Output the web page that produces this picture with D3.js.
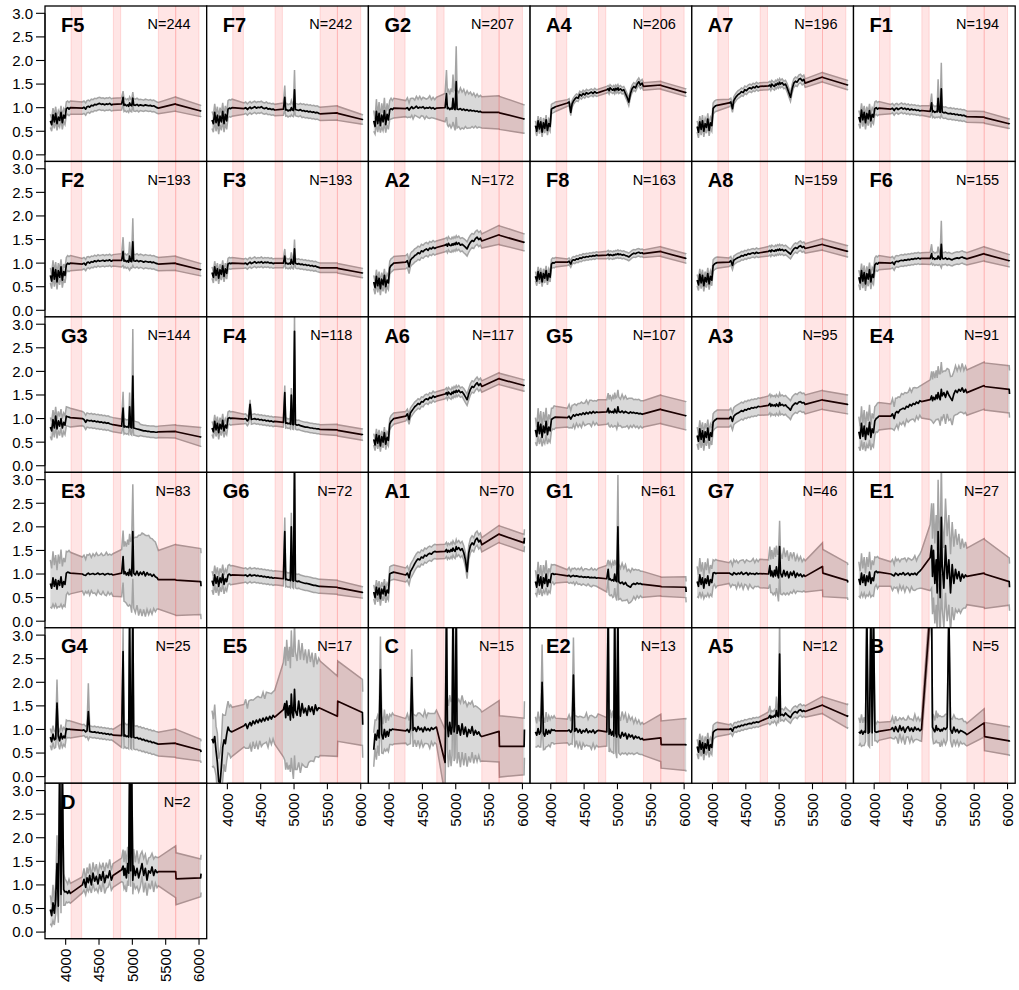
<!DOCTYPE html>
<html><head><meta charset="utf-8">
<script src="https://cdn.jsdelivr.net/npm/d3@7"></script>
<style>body{margin:0;background:#fff} svg{display:block} text{font-family:"Liberation Sans",Arial,sans-serif}</style>
</head><body><svg id="c" width="1019" height="990"></svg>
<script>
// shared wavelength grid (Angstrom)
const WL = [3770,3790,3810,3830,3850,3870,3890,3910,3930,3950,3970,3990,4010,4030,4050,4070,
4250,4275,4300,4320,4340,4360,4385,4410,4435,4460,4485,4510,4535,4560,4585,4610,4635,4660,4685,4710,
4840,4861,4875,4890,4910,4930,4945,4959,4975,4990,5007,5020,5045,5070,5095,5120,5145,5170,5195,5220,5245,5270,5295,5320,5345,5370,5390,
5650,5655,6025,6030];

const PANELS = ["F5","F7","G2","A4","A7","F1","F2","F3","A2","F8","A8","F6","G3","F4","A6","G5","A3","E4","E3","G6","A1","G1","G7","E1","G4","E5","C","E2","A5","B","D"];
const COUNTS = [244,242,207,206,196,194,193,193,172,163,159,155,144,118,117,107,95,91,83,72,70,61,46,27,25,17,15,13,12,5,2];
const BAND_LO = [4080,4715,5390,5650];
const BAND_HI = [4240,4825,5650,6000];
const Y_TICKS = [0,0.5,1,1.5,2,2.5,3];
const X_TICKS = [4000,4500,5000,5500,6000];

// mean spectra
const F5 = [.72,.64,.85,.70,.88,.66,.80,.73,.90,.68,.84,.78,.98,1.0,.97,1.0,
.99,1.01,.97,1.02,1.03,1.01,1.05,1.04,1.07,1.06,1.08,1.09,1.07,1.08,1.06,1.08,1.07,1.09,1.06,1.07,
1.08,1.22,1.05,1.07,1.04,1.06,1.03,1.10,1.05,1.04,1.20,1.06,1.05,1.07,1.04,1.06,1.05,1.04,1.06,1.05,1.04,1.05,1.03,1.04,1.02,1.0,.99,
1.08,1.07,.93,.92];
const F7 = [.74,.66,.90,.68,.84,.62,.82,.70,.92,.66,.86,.72,.97,.99,.98,1.0,
.98,1.0,.96,.99,1.01,.98,1.0,1.02,.99,1.01,1.0,1.02,.99,.98,1.0,.97,.98,.96,.97,.95,
.97,1.22,.95,.96,.93,.95,.94,1.0,.95,.94,1.38,.96,.95,.94,.96,.93,.94,.92,.93,.91,.92,.90,.91,.89,.90,.88,.87,
.89,.88,.75,.74];
const G2 = [.72,.60,.92,.66,.88,.62,.84,.70,.94,.64,.86,.74,.95,.98,.96,.99,
.98,1.0,.95,.99,1.02,.98,1.0,1.03,.99,1.01,1.0,1.02,.98,1.0,.99,1.01,.98,1.0,.97,.99,
1.0,1.3,.98,1.0,.96,.99,.97,1.2,.98,.96,1.55,.97,.96,.98,.95,.97,.94,.96,.93,.95,.93,.94,.92,.93,.91,.92,.9,
.9,.89,.76,.75];
const A4 = [.62,.50,.72,.55,.70,.48,.68,.56,.74,.52,.66,.60,.97,.99,1.0,1.02,
1.10,1.12,.90,1.08,1.14,1.18,1.22,1.20,1.28,1.25,1.30,1.27,1.32,1.29,1.31,1.33,1.30,1.34,1.31,1.32,
1.38,1.40,1.36,1.42,1.39,1.37,1.40,1.36,1.41,1.38,1.42,1.37,1.40,1.36,1.38,1.30,1.22,1.12,1.30,1.40,1.45,1.42,1.50,1.55,1.48,1.52,1.45,
1.48,1.47,1.32,1.31];
const A7 = [.60,.48,.70,.54,.72,.50,.66,.58,.76,.52,.68,.62,.98,1.02,1.04,1.05,
1.10,1.12,.98,1.15,1.20,1.24,1.28,1.30,1.34,1.32,1.38,1.36,1.40,1.42,1.40,1.44,1.42,1.46,1.43,1.45,
1.46,1.48,1.44,1.50,1.47,1.45,1.50,1.48,1.52,1.49,1.54,1.50,1.53,1.48,1.50,1.42,1.32,1.22,1.40,1.52,1.56,1.54,1.60,1.62,1.57,1.60,1.52,
1.65,1.64,1.48,1.47];
const F1 = [.80,.70,.95,.74,.90,.68,.88,.76,.94,.72,.86,.80,.98,1.0,.97,.99,
.97,.99,.94,.98,.99,.96,.98,1.0,.97,.99,.96,.98,.95,.97,.95,.96,.94,.95,.93,.94,
.92,1.10,.91,.93,.90,.92,.91,1.20,.92,.90,1.40,.91,.89,.90,.88,.87,.88,.86,.87,.85,.86,.84,.85,.83,.84,.82,.81,
.80,.79,.66,.65];
const F2 = [.74,.62,.90,.66,.86,.60,.84,.70,.92,.64,.82,.74,.96,1.0,.98,1.0,
.98,1.0,.96,1.01,1.02,1.0,1.03,1.02,1.05,1.03,1.06,1.04,1.05,1.06,1.04,1.06,1.05,1.07,1.04,1.06,
1.06,1.25,1.04,1.06,1.03,1.05,1.02,1.15,1.04,1.03,1.45,1.05,1.04,1.06,1.03,1.05,1.04,1.02,1.04,1.03,1.02,1.03,1.01,1.02,1.0,.99,.98,
1.0,.99,.86,.85];
const F3 = [.80,.70,.92,.74,.88,.68,.86,.76,.94,.72,.88,.78,.98,1.0,.99,1.0,
.99,1.0,.97,1.0,1.02,.99,1.01,1.03,1.0,1.02,1.01,1.03,1.0,1.02,1.01,1.02,1.0,1.01,.99,1.0,
1.0,1.15,.99,1.0,.98,1.0,.98,1.08,.99,.98,1.30,1.0,.98,.99,.97,.98,.96,.97,.95,.96,.94,.95,.93,.94,.92,.91,.90,
.90,.89,.79,.78];
const A2 = [.60,.48,.72,.52,.68,.46,.66,.54,.74,.50,.64,.58,.90,.95,.97,1.0,
1.02,1.05,.92,1.06,1.10,1.12,1.16,1.18,1.22,1.20,1.26,1.24,1.28,1.30,1.27,1.32,1.30,1.34,1.31,1.33,
1.38,1.40,1.36,1.42,1.38,1.37,1.41,1.38,1.42,1.39,1.44,1.40,1.43,1.38,1.40,1.37,1.34,1.30,1.38,1.44,1.48,1.46,1.52,1.55,1.50,1.53,1.47,
1.60,1.59,1.44,1.43];
const F8 = [.72,.62,.82,.66,.80,.60,.78,.68,.84,.64,.78,.70,.98,1.01,1.0,1.02,
1.02,1.04,.98,1.05,1.07,1.06,1.09,1.08,1.11,1.10,1.13,1.12,1.14,1.13,1.15,1.14,1.16,1.15,1.17,1.16,
1.17,1.19,1.16,1.18,1.17,1.16,1.18,1.17,1.19,1.18,1.20,1.18,1.19,1.17,1.18,1.16,1.15,1.13,1.16,1.19,1.21,1.20,1.22,1.23,1.21,1.22,1.20,
1.25,1.24,1.10,1.09];
const A8 = [.64,.54,.76,.58,.74,.52,.70,.60,.78,.56,.72,.64,.95,.98,1.0,1.01,
1.02,1.05,.95,1.06,1.08,1.10,1.12,1.13,1.16,1.15,1.18,1.17,1.20,1.19,1.21,1.22,1.20,1.23,1.21,1.22,
1.25,1.27,1.24,1.28,1.26,1.25,1.28,1.26,1.29,1.27,1.30,1.27,1.29,1.26,1.28,1.25,1.22,1.19,1.25,1.30,1.33,1.31,1.35,1.37,1.33,1.35,1.31,
1.40,1.39,1.25,1.24];
const F6 = [.70,.58,.84,.62,.80,.56,.78,.66,.86,.60,.76,.70,.96,1.0,.98,1.01,
1.0,1.02,.97,1.03,1.04,1.03,1.05,1.06,1.05,1.07,1.06,1.08,1.07,1.09,1.08,1.10,1.09,1.11,1.09,1.10,
1.10,1.20,1.09,1.11,1.08,1.10,1.09,1.15,1.10,1.08,1.40,1.10,1.09,1.11,1.08,1.10,1.08,1.07,1.09,1.10,1.11,1.10,1.12,1.13,1.11,1.10,1.09,
1.20,1.19,1.05,1.04];
const G3 = [.82,.74,.98,.80,1.05,.78,.95,.84,1.0,.80,.92,.86,1.05,1.04,1.03,1.02,
1.0,.98,.92,.97,.96,.95,.96,.94,.95,.93,.94,.92,.93,.91,.92,.90,.91,.89,.88,.87,
.84,1.22,.82,.84,.82,.83,.81,1.25,.82,.80,1.90,.80,.79,.78,.77,.76,.75,.74,.74,.73,.73,.72,.72,.72,.71,.71,.72,
.73,.72,.61,.60];
const F4 = [.80,.72,.94,.76,.90,.70,.88,.78,.96,.74,.86,.80,1.0,1.02,1.0,1.01,
.99,1.0,.95,.99,1.30,.98,.99,1.0,.98,.99,.97,.98,.96,.97,.95,.96,.94,.95,.93,.94,
.92,1.55,.90,.91,.89,.90,.88,1.50,.88,.87,2.85,.88,.86,.87,.85,.84,.83,.82,.82,.81,.80,.80,.79,.79,.78,.78,.77,
.76,.75,.66,.65];
const A6 = [.56,.44,.66,.48,.64,.42,.62,.50,.70,.46,.60,.54,.88,.94,.97,1.0,
1.05,1.10,.98,1.12,1.16,1.20,1.25,1.28,1.32,1.30,1.36,1.35,1.40,1.42,1.40,1.45,1.43,1.48,1.45,1.47,
1.52,1.55,1.50,1.56,1.53,1.51,1.56,1.53,1.58,1.55,1.60,1.56,1.60,1.55,1.57,1.52,1.46,1.40,1.52,1.62,1.68,1.66,1.72,1.76,1.70,1.74,1.68,
1.85,1.84,1.70,1.69];
const G5 = [.76,.62,.92,.68,.88,.60,.84,.70,.94,.66,.82,.74,.98,1.0,1.02,1.03,
1.02,1.05,.99,1.04,1.08,1.05,1.09,1.07,1.10,1.08,1.12,1.09,1.13,1.10,1.14,1.11,1.15,1.12,1.14,1.13,
1.14,1.22,1.12,1.16,1.13,1.15,1.12,1.20,1.14,1.12,1.25,1.15,1.13,1.16,1.12,1.15,1.13,1.11,1.14,1.12,1.13,1.11,1.12,1.10,1.11,1.09,1.10,
1.20,1.19,1.06,1.05];
const A3 = [.64,.52,.78,.56,.74,.50,.72,.60,.80,.54,.70,.62,.92,.96,.98,1.0,
1.0,1.04,.94,1.05,1.08,1.10,1.12,1.14,1.17,1.15,1.19,1.18,1.21,1.20,1.23,1.22,1.24,1.23,1.26,1.25,
1.28,1.32,1.26,1.30,1.27,1.29,1.26,1.31,1.28,1.26,1.34,1.28,1.30,1.27,1.29,1.25,1.22,1.18,1.26,1.30,1.33,1.31,1.35,1.36,1.33,1.34,1.30,
1.40,1.39,1.30,1.29];
const E4 = [.72,.58,.90,.62,.84,.56,.80,.66,.92,.60,.78,.70,.95,1.0,1.02,1.05,
1.05,1.10,1.0,1.12,1.15,1.12,1.18,1.20,1.22,1.20,1.26,1.24,1.30,1.27,1.32,1.30,1.35,1.32,1.38,1.36,
1.40,1.48,1.38,1.45,1.40,1.50,1.42,1.55,1.45,1.40,1.62,1.48,1.55,1.45,1.58,1.50,1.44,1.38,1.52,1.60,1.55,1.62,1.58,1.65,1.56,1.62,1.55,
1.70,1.68,1.62,1.52];
const E3 = [.80,.70,.92,.74,.88,.68,.86,.76,.94,.72,.84,.78,1.02,1.04,1.03,1.02,
1.0,.98,.97,1.0,1.02,.99,1.0,1.01,.99,1.0,1.02,.99,1.0,1.01,.98,1.0,1.01,.99,1.0,.98,
1.02,1.37,1.0,1.05,.98,1.03,.97,1.10,1.0,.96,1.90,1.02,.98,1.06,.97,1.04,.99,1.05,.96,1.03,.98,1.0,.95,.99,.94,.92,.88,
.88,.87,.84,.74];
const G6 = [.86,.76,.98,.80,.94,.74,.92,.82,1.0,.78,.90,.84,.98,1.0,.97,.98,
.97,.98,.95,.97,.99,.96,.97,.98,.96,.97,.95,.96,.94,.95,.93,.94,.92,.93,.91,.92,
.90,1.90,.88,.89,.87,.88,.86,2.00,.87,.85,3.30,.86,.84,.85,.83,.82,.81,.80,.80,.79,.78,.77,.76,.76,.75,.74,.74,
.72,.71,.61,.60];
const A1 = [.62,.50,.72,.56,.70,.48,.68,.58,.74,.54,.66,.60,1.0,1.02,1.03,1.04,
.98,1.02,.92,1.05,1.10,1.15,1.22,1.28,1.32,1.30,1.36,1.34,1.40,1.38,1.42,1.44,1.42,1.46,1.48,1.47,
1.48,1.52,1.46,1.50,1.47,1.52,1.48,1.55,1.50,1.48,1.58,1.52,1.56,1.50,1.54,1.45,1.30,1.05,1.45,1.60,1.66,1.62,1.72,1.76,1.68,1.72,1.62,
1.85,1.84,1.66,1.77];
const G1 = [.84,.72,.98,.76,.94,.70,.92,.80,1.0,.74,.88,.82,1.0,1.01,.99,1.0,
.96,.97,.94,.96,.97,.95,.96,.95,.94,.95,.93,.94,.93,.94,.92,.93,.92,.93,.91,.92,
.90,1.10,.88,.90,.86,.88,.85,1.00,.86,.84,2.00,.84,.80,.83,.78,.82,.76,.74,.72,.78,.80,.78,.81,.79,.80,.78,.78,
.74,.73,.72,.62];
const G7 = [.84,.74,.98,.78,.92,.70,.90,.80,.96,.76,.88,.82,1.02,1.03,1.01,1.02,
1.02,1.0,.98,1.03,1.01,.99,1.02,1.0,1.04,.99,1.01,1.03,.98,1.02,1.0,1.01,.99,1.02,1.0,1.01,
1.0,1.18,.96,1.06,.94,1.08,.96,1.15,1.0,.92,1.58,1.02,.94,1.08,.96,1.05,.92,1.04,.97,1.06,.93,1.02,.96,1.0,.94,.98,.95,
1.16,1.02,.86,.82];
const E1 = [.90,.78,1.02,.82,.98,.76,.96,.84,1.04,.80,.92,.86,1.04,1.06,1.03,1.04,
1.0,.98,.96,1.02,1.0,.97,1.01,.99,1.03,.98,1.0,1.02,.97,1.01,.99,1.02,.98,1.03,1.06,1.1,
1.35,1.6,.95,1.5,.8,1.3,.6,1.9,1.1,.5,2.2,1.2,.7,1.6,.9,1.3,.6,1.2,.8,1.1,.9,1.05,.85,1.0,.92,.98,.95,
1.02,1.0,.84,.72];
const G4 = [.84,.74,.90,.78,.80,1.56,.86,.76,.92,.80,.86,.82,1.02,1.0,1.01,1.0,
.98,.99,.95,.97,1.38,.96,.95,.94,.95,.93,.94,.92,.93,.91,.92,.90,.91,.89,.90,.88,
.87,2.65,.86,.88,.85,.86,.84,3.40,.85,.83,3.60,.84,.82,.83,.80,.81,.78,.79,.76,.77,.74,.75,.72,.73,.71,.70,.69,
.71,.70,.56,.52];
const E5 = [.80,.72,.85,.55,.30,-.10,-.15,.20,.62,.78,.70,.90,1.05,.98,.96,.95,
1.08,1.12,1.02,1.10,1.15,1.08,1.18,1.12,1.20,1.14,1.22,1.16,1.24,1.18,1.26,1.20,1.28,1.22,1.30,1.26,
1.42,1.55,1.25,1.60,1.30,1.50,1.20,1.75,1.35,1.25,1.85,1.40,1.30,1.60,1.28,1.55,1.35,1.45,1.30,1.50,1.38,1.48,1.32,1.52,1.40,1.46,1.45,
1.28,1.60,1.36,1.10];
const C = [.57,.90,.78,.98,.82,2.27,.90,.80,1.0,.84,.96,.86,1.0,.98,1.01,1.0,
.97,1.0,.94,1.02,2.10,.98,1.04,.96,1.06,.99,1.03,.95,1.05,.98,1.02,.97,1.04,1.0,1.03,1.05,
.30,3.50,1.10,.85,1.15,.90,1.05,3.50,.95,1.10,3.50,.92,1.08,.88,1.12,.90,1.05,.85,1.0,.92,1.06,.88,.98,.90,.95,.87,.85,
.96,.64,.64,1.0];
const E2 = [.95,.88,1.02,.90,.96,2.0,.92,.86,1.0,.90,.98,.92,1.0,.98,.99,.97,
.97,.99,.94,1.0,2.15,.96,1.02,.94,1.0,.92,.98,.95,1.01,.93,.97,.94,.99,.92,.96,.98,
.95,3.50,.90,1.0,.88,.96,.86,3.50,.92,.84,3.50,.90,.82,.94,.86,.92,.80,.90,.84,.88,.80,.86,.82,.84,.79,.81,.78,
.82,.68,.68,.66];
const A5 = [.64,.52,.76,.58,.72,.50,.70,.60,.78,.56,.68,.62,.94,.97,.99,1.0,
1.0,1.02,.96,1.03,1.05,1.04,1.07,1.06,1.09,1.08,1.11,1.10,1.12,1.13,1.12,1.15,1.14,1.16,1.15,1.17,
1.25,1.30,1.24,1.28,1.26,1.30,1.27,1.40,1.29,1.27,2.60,1.30,1.32,1.29,1.35,1.31,1.28,1.25,1.32,1.36,1.38,1.35,1.40,1.42,1.38,1.40,1.38,
1.52,1.51,1.28,1.30];
const B = [.95,.92,.98,.90,.96,.94,3.5,.92,.95,3.5,.93,3.5,.96,.94,.95,.96,
1.0,1.04,.96,1.06,1.0,.95,1.08,.98,1.05,.94,1.02,1.06,.97,1.03,.96,1.05,.99,1.02,.97,1.0,
3.50,3.50,1.05,1.0,.95,1.08,.98,1.02,1.0,.96,1.0,.97,1.03,1.0,1.05,3.50,1.0,.92,1.05,.95,1.0,.93,.98,.96,.94,.92,.89,
1.14,.85,.76,.74];
const D = [.48,.35,.62,.40,.70,1.45,.55,3.5,.80,3.5,.90,.85,.86,.82,.88,.82,
1.0,1.12,.95,1.15,1.05,1.2,1.0,1.25,1.08,1.18,1.02,1.22,1.1,1.28,1.05,1.2,1.15,1.3,1.1,1.2,
1.32,1.40,1.20,1.35,1.15,1.45,1.25,3.5,1.30,3.5,1.10,1.40,1.20,1.35,1.15,1.30,1.45,1.20,1.35,1.10,1.30,1.25,1.38,1.20,1.32,1.26,1.28,
1.28,1.13,1.15,1.24];

// standard deviations. Short form: [blue, mid, red<=5100, red>5100, 5650, 6030, at3870, at4340, at4861, at4959, at5007];
// long form: one value per wavelength in WL.
const F5_sd = [.14,.13,.13,.12,.15,.12];
const F7_sd = [.18,.12,.13,.14,.15,.1,0,0,.25,.15,.42];
const G2_sd = [.22,.16,.26,.18,.24,.15,.25,.19,.27,.17,.23,.2,.2,.22,.19,.21,
.17,.21,.15,.2,.18,.22,.16,.21,.19,.23,.17,.2,.22,.18,.21,.24,.19,.22,.2,.23,
.3,.5,.34,.4,.32,.42,.36,.5,.38,.44,.75,.4,.36,.44,.38,.42,.34,.4,.36,.38,.33,.37,.31,.36,.32,.34,.33,
.35,.35,.3,.3];
const A4_sd = [.1,.07,.07,.08,.08,.08];
const A7_sd = [.12,.08,.08,.09,.1,.1];
const F1_sd = [.14,.1,.12,.12,.12,.1,0,0,.2,.4,.55];
const F2_sd = [.16,.12,.14,.14,.15,.13,0,0,.3,.3,.5];
const F3_sd = [.12,.1,.1,.1,.1,.1,0,0,.15,.15,.2];
const A2_sd = [.14,.14,.14,.15,.2,.18];
const F8_sd = [.1,.07,.08,.08,.1,.1];
const A8_sd = [.12,.09,.1,.1,.12,.12];
const F6_sd = [.15,.12,.13,.13,.15,.13,0,0,.2,.2,.5];
const G3_sd = [.2,.15,.15,.12,.14,.2,0,0,.35,.3,1.0];
const F4_sd = [.14,.1,.1,.1,.12,.12,0,.1,.15,.15,.4];
const A6_sd = [.12,.1,.1,.12,.12,.12];
const G5_sd = [.26,.2,.3,.22,.28,.19,.3,.23,.29,.2,.27,.24,.24,.22,.25,.23,
.2,.25,.18,.24,.21,.26,.19,.25,.22,.27,.2,.24,.26,.21,.25,.28,.22,.26,.23,.27,
.26,.32,.28,.34,.27,.33,.29,.35,.3,.34,.36,.31,.28,.35,.3,.33,.28,.32,.29,.31,.27,.3,.28,.31,.27,.29,.28,
.3,.3,.3,.3];
const A3_sd = [.18,.18,.2,.2,.2,.2];
const E4_sd = [.32,.26,.36,.28,.34,.25,.35,.29,.37,.27,.33,.3,.3,.28,.31,.29,
.26,.32,.25,.31,.28,.34,.27,.33,.29,.35,.28,.32,.34,.29,.33,.36,.3,.34,.31,.35,
.42,.52,.45,.55,.46,.52,.44,.56,.5,.55,.58,.5,.46,.56,.48,.54,.45,.52,.47,.52,.46,.5,.44,.52,.46,.49,.48,
.5,.5,.5,.5];
const E3_sd = [.5,.42,.56,.45,.52,.4,.55,.46,.58,.44,.5,.47,.46,.43,.47,.44,
.36,.42,.34,.41,.38,.44,.35,.42,.39,.45,.37,.41,.44,.38,.42,.46,.39,.43,.4,.45,
.5,.55,.58,.64,.6,.7,.65,.75,.68,.78,1.0,.74,.8,.72,.85,.78,.88,.8,.86,.78,.84,.76,.8,.72,.74,.66,.62,
.75,.75,.7,.7];
const G6_sd = [.2,.15,.15,.15,.15,.12,0,0,.3,.3,.5];
const A1_sd = [.15,.15,.15,.15,.18,.18];
const G1_sd = [.24,.18,.28,.2,.25,.17,.27,.21,.29,.19,.24,.22,.2,.18,.21,.19,
.13,.17,.12,.16,.14,.18,.13,.17,.15,.19,.14,.17,.18,.15,.17,.2,.16,.18,.17,.2,
.28,.2,.32,.36,.3,.38,.33,.3,.35,.4,1.1,.38,.32,.4,.34,.38,.3,.36,.32,.34,.28,.32,.27,.3,.26,.28,.27,
.2,.2,.22,.22];
const G7_sd = [.32,.24,.36,.27,.33,.22,.35,.28,.37,.25,.31,.29,.28,.25,.3,.27,
.22,.28,.2,.27,.24,.3,.21,.28,.25,.31,.23,.27,.3,.24,.28,.32,.25,.29,.26,.3,
.3,.4,.35,.45,.38,.48,.4,.45,.42,.5,.55,.44,.38,.48,.4,.45,.36,.42,.38,.4,.34,.38,.33,.37,.32,.34,.33,
.5,.5,.37,.37];
const E1_sd = [.36,.28,.42,.3,.38,.26,.4,.31,.43,.29,.37,.33,.32,.29,.34,.3,
.26,.33,.24,.32,.28,.35,.25,.33,.29,.36,.27,.32,.35,.28,.33,.37,.3,.34,.36,.4,
.7,.9,.8,1.0,.85,.95,.9,1.1,.88,1.0,1.2,.92,.85,1.0,.9,.95,.82,.9,.78,.85,.72,.8,.68,.75,.64,.7,.6,
.73,.73,.5,.5];
const G4_sd = [.18,.12,.25,.25,.3,.23,.5,.6,.5,.5,.5];
const E5_sd = [.6,.5,.68,.52,.62,.48,.66,.55,.7,.52,.6,.56,.55,.5,.56,.52,
.45,.52,.42,.5,.47,.55,.44,.53,.48,.56,.46,.52,.55,.47,.53,.58,.49,.54,.5,.57,
1.0,1.2,1.1,1.3,1.15,1.25,1.1,1.35,1.2,1.3,1.4,1.25,1.15,1.3,1.2,1.28,1.12,1.25,1.1,1.2,1.05,1.15,1.0,1.1,.98,1.05,1.0,
.85,.85,.7,.7];
const C_sd = [.36,.3,.42,.32,.38,.7,.4,.31,.42,.3,.37,.33,.32,.3,.34,.31,
.26,.33,.25,.32,.6,.35,.26,.33,.29,.36,.28,.32,.35,.28,.33,.37,.3,.34,.31,.36,
.7,1,.55,.65,.58,.68,.6,1,.62,.7,1,.64,.56,.68,.6,.66,.55,.64,.57,.62,.54,.6,.52,.58,.5,.55,.52,
.65,.65,.6,.6];
const E2_sd = [.32,.25,.36,.27,.33,.8,.35,.28,.37,.26,.31,.29,.28,.26,.3,.27,
.25,.32,.24,.31,.8,.34,.26,.32,.28,.35,.27,.31,.34,.28,.32,.36,.29,.33,.3,.35,
.3,1,.38,.42,.36,.44,.38,1,.4,.45,1,.4,.36,.44,.38,.42,.34,.4,.36,.38,.33,.37,.31,.36,.32,.34,.33,
.5,.5,.55,.55];
const A5_sd = [.15,.1,.12,.12,.18,.25,0,0,.2,.3,.8];
const B_sd = [.3,.22,.34,.24,.3,.2,.3,.25,.32,.3,.28,.3,.2,.18,.22,.19,
.17,.23,.16,.22,.19,.25,.17,.23,.2,.26,.18,.22,.25,.19,.23,.27,.2,.24,.21,.25,
.3,.3,.22,.3,.24,.32,.26,.3,.28,.33,.27,.3,.25,.32,.27,.3,.24,.3,.26,.28,.23,.28,.24,.27,.23,.25,.24,
.3,.3,.3,.3];
const D_sd = [.3,.22,.38,.25,.32,.6,.35,.3,.4,.3,.33,.28,.22,.2,.24,.21,
.17,.23,.16,.22,.19,.25,.17,.23,.2,.26,.18,.22,.25,.19,.23,.27,.2,.24,.21,.25,
.25,.35,.28,.38,.3,.36,.27,.3,.34,.3,.3,.36,.28,.38,.3,.34,.26,.36,.3,.33,.27,.34,.29,.35,.28,.32,.3,
.55,.55,.4,.4];

const MEANS = {F5,F7,G2,A4,A7,F1,F2,F3,A2,F8,A8,F6,G3,F4,A6,G5,A3,E4,E3,G6,A1,G1,G7,E1,G4,E5,C,E2,A5,B,D};
const SDS = {F5:F5_sd,F7:F7_sd,G2:G2_sd,A4:A4_sd,A7:A7_sd,F1:F1_sd,F2:F2_sd,F3:F3_sd,A2:A2_sd,F8:F8_sd,A8:A8_sd,F6:F6_sd,
G3:G3_sd,F4:F4_sd,A6:A6_sd,G5:G5_sd,A3:A3_sd,E4:E4_sd,E3:E3_sd,G6:G6_sd,A1:A1_sd,G1:G1_sd,G7:G7_sd,E1:E1_sd,
G4:G4_sd,E5:E5_sd,C:C_sd,E2:E2_sd,A5:A5_sd,B:B_sd,D:D_sd};

const SPECIAL = {3870:6, 4340:7, 4861:8, 4959:9, 5007:10};
function sdAt(i, s){
  if (s.length === WL.length) return s[i];
  const w = WL[i];
  const k = SPECIAL[w];
  if (k !== undefined && s[k]) return s[k];
  if (w < 4200) return s[0];
  if (w < 4800) return s[1];
  if (w <= 5100) return s[2];
  if (w < 5500) return s[3];
  if (w < 5800) return s[4];
  return s[5];
}

const svg = d3.select("#c");
const COLW = 161.7, ROWH = 155.45, X0 = 45, Y0 = 6;
const x = d3.scaleLinear().domain([3690, 6115]).range([0, COLW]);
const y = d3.scaleLinear().domain([-0.14, 3.155]).range([ROWH, 0]);

svg.append("defs").append("clipPath").attr("id","pc")
  .append("rect").attr("x",0).attr("y",0).attr("width",COLW).attr("height",ROWH);

const area = d3.area().x(d=>x(d.w)).y0(d=>y(d.m-d.s)).y1(d=>y(d.m+d.s));
const lineM = d3.line().x(d=>x(d.w)).y(d=>y(d.m));
const lineU = d3.line().x(d=>x(d.w)).y(d=>y(d.m+d.s));
const lineL = d3.line().x(d=>x(d.w)).y(d=>y(d.m-d.s));

const bad = [];
PANELS.forEach((name, k) => {
  const col = k % 6, row = Math.floor(k/6);
  const g = svg.append("g").attr("transform", `translate(${X0+col*COLW},${Y0+row*ROWH})`);
  const m = MEANS[name], s = SDS[name];
  if (m.length !== WL.length) bad.push(name+":"+m.length);
  if (s.length > 11 && s.length !== WL.length) bad.push(name+"_sd:"+s.length);
  const pts = WL.map((w,i)=>({w, m:m[i], s:sdAt(i,s)}));
  const inner = g.append("g").attr("clip-path","url(#pc)");
  inner.append("rect").attr("width",COLW).attr("height",ROWH).attr("fill","#fff");
  inner.append("path").attr("d",area(pts)).attr("fill","#d9d9d9").attr("stroke","none");
  inner.append("path").attr("d",lineU(pts)).attr("fill","none").attr("stroke","#a4a4a4").attr("stroke-width",1.5);
  inner.append("path").attr("d",lineL(pts)).attr("fill","none").attr("stroke","#a4a4a4").attr("stroke-width",1.5);
  inner.append("path").attr("d",lineM(pts)).attr("fill","none").attr("stroke","#000").attr("stroke-width",1.7).attr("stroke-linejoin","round");
  BAND_LO.forEach((lo,i)=>{
    inner.append("rect").attr("x",x(lo)).attr("y",-2).attr("width",x(BAND_HI[i])-x(lo)).attr("height",ROWH+4)
      .attr("fill","rgba(255,0,0,0.1)").attr("stroke","rgba(255,0,0,0.12)").attr("stroke-width",1);
  });
  g.append("text").attr("x",16).attr("y",25.7).attr("font-size",20).attr("font-weight","bold").text(name);
  g.append("text").attr("x",COLW-16).attr("y",23.3).attr("font-size",14.5).attr("text-anchor","end").text("N="+COUNTS[k]);
  g.append("rect").attr("width",COLW).attr("height",ROWH).attr("fill","none").attr("stroke","#000").attr("stroke-width",1.3);

  if (col === 0) {
    const ax = g.append("g");
    ax.append("line").attr("x1",0).attr("x2",0).attr("y1",y(0)).attr("y2",y(3)).attr("stroke","#000");
    Y_TICKS.forEach(t=>{
      ax.append("line").attr("x1",-9).attr("x2",0).attr("y1",y(t)).attr("y2",y(t)).attr("stroke","#000").attr("stroke-width",1.1);
      ax.append("text").attr("x",-12).attr("y",y(t)).attr("dy","0.36em").attr("text-anchor","end")
        .attr("font-size",15).text(d3.format(".1f")(t));
    });
  }
  const isBottom = (k + 6 >= PANELS.length);
  if (isBottom) {
    const ax = g.append("g").attr("transform",`translate(0,${ROWH})`);
    ax.append("line").attr("x1",x(4000)).attr("x2",x(6000)).attr("y1",0).attr("y2",0).attr("stroke","#000");
    X_TICKS.forEach(t=>{
      ax.append("line").attr("x1",x(t)).attr("x2",x(t)).attr("y1",0).attr("y2",6).attr("stroke","#000").attr("stroke-width",1.1);
      ax.append("text").attr("transform",`translate(${x(t)},10) rotate(-90)`).attr("dy","0.36em")
        .attr("text-anchor","end").attr("font-size",15).text(t);
    });
  }
});
if (bad.length) svg.append("text").attr("x",300).attr("y",970).attr("fill","red").attr("font-size",14).text("LEN "+bad.join(" "));
</script></body></html>
